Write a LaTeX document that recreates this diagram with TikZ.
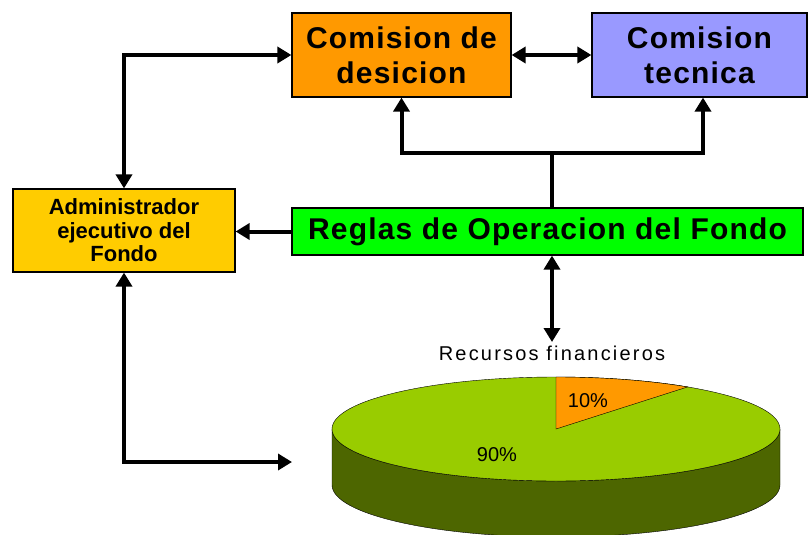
\documentclass[tikz,border=0pt]{standalone}
\usepackage{fontspec}
\setmainfont{Liberation Sans}
\usetikzlibrary{positioning, calc, arrows.meta}
\definecolor{desicionorange}{HTML}{FF9900}
\definecolor{tecnicablue}{HTML}{9999FF}
\definecolor{reglasgreen}{HTML}{00FF00}
\definecolor{adminyellow}{HTML}{FFCC00}
\definecolor{pietop}{HTML}{99CC00}
\definecolor{pieside}{HTML}{4D6600}
\tikzset{
	box/.style={draw, rectangle, line width=1.2pt, inner sep=0pt, align=center, font=\bfseries\fontsize{30}{35}\selectfont\addfontfeature{LetterSpace=4}},
	smallbox/.style={box, font=\bfseries\fontsize{22}{23.5}\selectfont},
	conn/.style={line width=4pt, black},
	% plain text of the pie chart
	pielabel/.style={inner sep=0pt, font=\fontsize{20}{22}\selectfont}
}
\begin{document}
\begin{tikzpicture}[x=1pt, y=-1pt, >={Triangle[length=14pt, width=16pt]}]
			\useasboundingbox (0,0) rectangle (809,535);
			\node (desicion) [box, fill=desicionorange, minimum width=219pt, minimum height=84pt] at (401.5,55) {Comision de\\desicion};
			\node (tecnica) [box, fill=tecnicablue, minimum width=215pt, minimum height=84pt] at (699.5,55) {Comision\\tecnica};
			\node (reglas) [box, fill=reglasgreen, minimum width=511pt, minimum height=47pt] at (547.5,231.5) {Reglas de Operacion del Fondo};
			\node (admin) [smallbox, fill=adminyellow, minimum width=222pt, minimum height=83pt] at (124,230.5) {Administrador\\ejecutivo del\\Fondo};
			
			\coordinate (stem) at (552,153);
			\coordinate (fin) at (552,342);
			\coordinate (pieleft) at (292,462);
			
			% pie chart
			\fill[pieside, draw=black, thin] (332,429) -- (332,485) arc[start angle=180, end angle=360, x radius=224pt, y radius=52pt] -- (780,429) arc[start angle=0, end angle=-180, x radius=224pt, y radius=52pt] -- cycle;
			\draw[fill=pietop, thin] (556,429) ellipse [x radius=224pt, y radius=52pt];
			\draw[fill=desicionorange, thin] (556,429) -- (556,377) arc[start angle=90, end angle=54, x radius=224pt, y radius=52pt] -- cycle;
			\node (recursos) [pielabel, below=4pt of fin, font=\fontsize{20}{22}\selectfont\addfontfeature{LetterSpace=11}] {Recursos financieros};
			\node (diez) [pielabel] at (588,401) {10\%};
			\node (noventa) [pielabel] at (497,455) {90\%};
			
			\begin{scope}[conn]
				\draw[<->] (admin.north) |- (desicion.west);
				\draw[<->] (desicion) -- (tecnica);
				\draw (reglas.north -| stem) -- (stem);
				\draw[->] (stem) -| (desicion.south);
				\draw[->] (stem) -| ([xshift=3.5pt]tecnica.south);
				\draw[->] (reglas.west) -- (reglas.west -| admin.east);
				\draw[<->] (reglas.south -| stem) -- (fin);
				\draw[<->] (admin.south) |- (pieleft);
			\end{scope}
\end{tikzpicture}
\end{document}
